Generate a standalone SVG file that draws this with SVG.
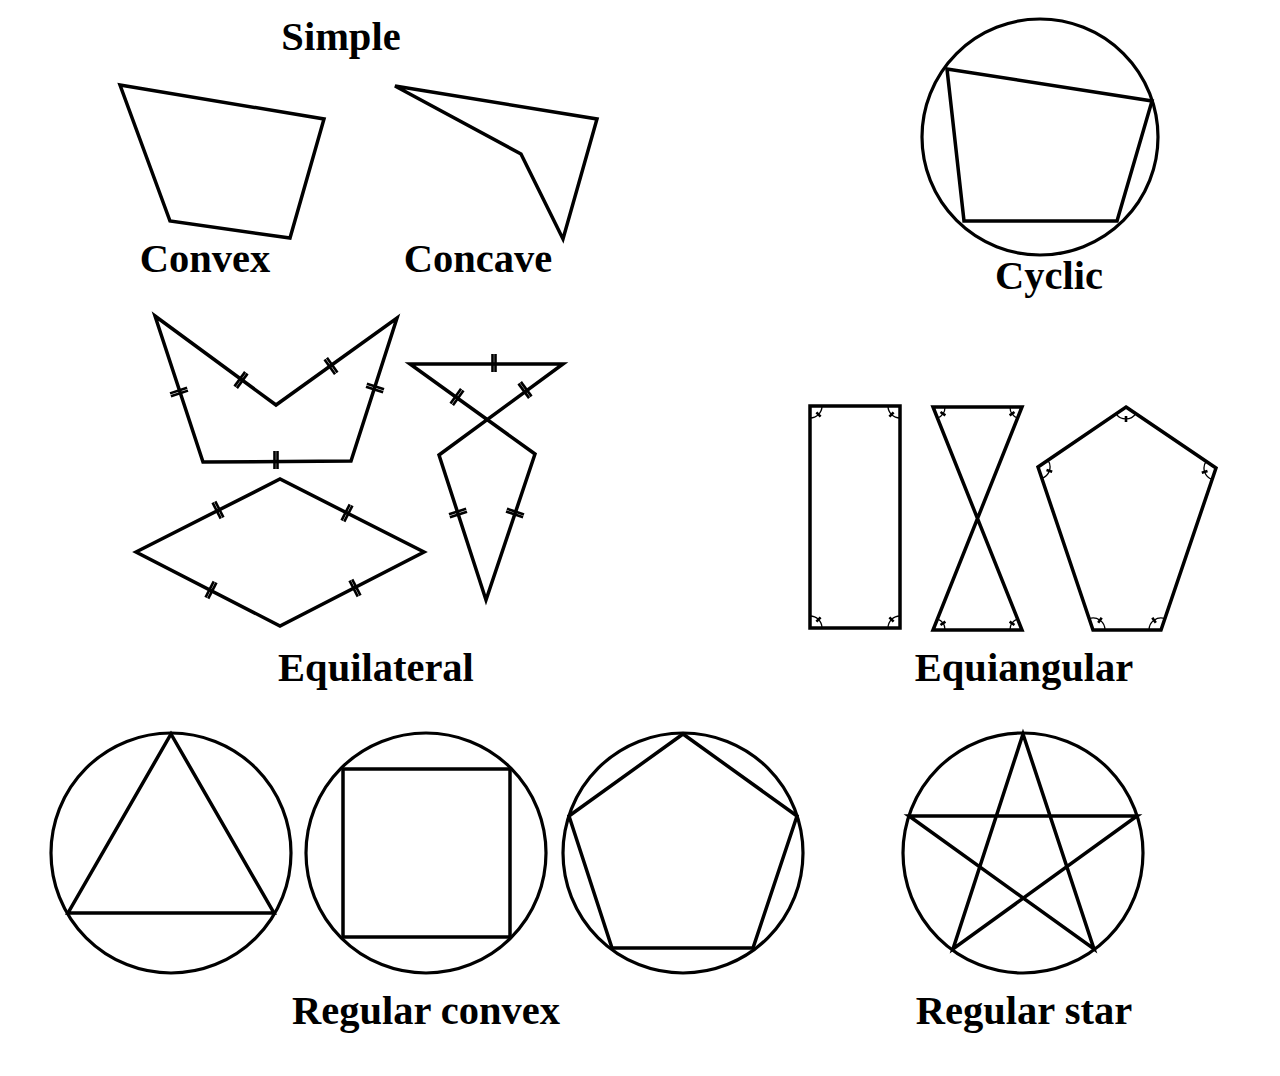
<svg xmlns="http://www.w3.org/2000/svg" xmlns:xlink="http://www.w3.org/1999/xlink" width="1280" height="1076" viewBox="0 0 1280 1076">
<style>
.s{fill:none;stroke:#000;stroke-width:3.5;stroke-linejoin:miter}
.c{fill:none;stroke:#000;stroke-width:3.2}
.a{fill:none;stroke:#000;stroke-width:1.3}
.k{fill:none;stroke:#000;stroke-width:2.6;stroke-linecap:butt}
.t{font-family:"Liberation Serif","Times New Roman",serif;font-weight:bold;font-size:40.5px;fill:#000;text-anchor:middle}
</style>
<defs>
<g id="tk" class="k"><line x1="-1.5" y1="-9" x2="-1.5" y2="9"/><line x1="1.5" y1="-9" x2="1.5" y2="9"/></g>
</defs>
<rect width="1280" height="1076" fill="#fff"/>

<g id="simple">
<text class="t" x="341" y="50">Simple</text>
<g id="convex"><polygon class="s" points="120,85 324,119 290,238 170,221"/><text class="t" x="205" y="272">Convex</text></g>
<g id="concave"><polygon class="s" points="395,86 597,119 563,239 521,154"/><text class="t" x="478" y="272">Concave</text></g>
</g>

<g id="cyclic">
<circle class="c" cx="1040" cy="137" r="118"/>
<polygon class="s" points="947,69 1152,101 1117,221 964,221"/>
<text class="t" x="1049" y="289">Cyclic</text>
</g>

<g id="equilateral">
<polygon class="s" points="155,316 276,405 397,318 351,461 203,462"/>
<use href="#tk" transform="translate(241,380) rotate(36.3)"/>
<use href="#tk" transform="translate(331,366) rotate(-35.7)"/>
<use href="#tk" transform="translate(375,388) rotate(107.8)"/>
<use href="#tk" transform="translate(179,392) rotate(71.8)"/>
<use href="#tk" transform="translate(276,460) rotate(0)"/>

<polygon class="s" points="410,364 563,364 439,455 486,600 535,454"/>
<use href="#tk" transform="translate(494,363) rotate(0)"/>
<use href="#tk" transform="translate(457,397) rotate(35.8)"/>
<use href="#tk" transform="translate(525,390) rotate(-36.3)"/>
<use href="#tk" transform="translate(458,513) rotate(72)"/>
<use href="#tk" transform="translate(515,513) rotate(-71.4)"/>

<polygon class="s" points="136,552 280,479 424,552 280,626"/>
<use href="#tk" transform="translate(218,510) rotate(-26.9)"/>
<use href="#tk" transform="translate(347,513) rotate(26.9)"/>
<use href="#tk" transform="translate(211,590) rotate(27.2)"/>
<use href="#tk" transform="translate(355,588) rotate(-27.2)"/>
<text class="t" x="376" y="681">Equilateral</text>
</g>

<g id="equiangular">
<rect class="s" x="810" y="406" width="90" height="222"/>
<path class="a" d="M822,406 A12,12 0 0 1 810,418 M888,406 A12,12 0 0 0 900,418 M888,628 A12,12 0 0 1 900,616 M822,628 A12,12 0 0 0 810,616"/>
<path class="k" d="M816.4,412.4 L820.6,416.6 M893.6,412.4 L889.4,416.6 M893.6,621.6 L889.4,617.4 M816.4,621.6 L820.6,617.4"/>

<path class="s" d="M933,407 L1022,407 L933,630 L1022,630 Z"/>
<path class="a" d="M945,407 A12,12 0 0 1 937.4,418.1 M1010,407 A12,12 0 0 0 1017.6,418.1 M945,630 A12,12 0 0 0 937.4,618.9 M1010,630 A12,12 0 0 1 1017.6,618.9"/>
<path class="k" d="M940.5,412 L945.4,415.4 M1014.5,412 L1009.6,415.4 M940.5,625 L945.4,621.6 M1014.5,625 L1009.6,621.6"/>

<polygon class="s" points="1126,407 1216,468 1161,630 1093,630 1038,467"/>
<path class="a" d="M1135.9,413.7 A12,12 0 0 1 1116.1,413.8 M1206.1,461.3 A12,12 0 0 0 1212.1,479.4 M1164.9,618.6 A12,12 0 0 0 1149,630 M1105,630 A12,12 0 0 0 1089.2,618.6 M1041.8,478.4 A12,12 0 0 0 1047.9,460.2"/>
<path class="k" d="M1126,416 L1126,422 M1207.5,470.9 L1201.8,472.8 M1155.8,622.7 L1152.3,617.8 M1098.2,622.7 L1101.7,617.8 M1046.5,469.9 L1052.2,471.8"/>
<text class="t" x="1024" y="681">Equiangular</text>
</g>

<g id="regular-convex">
<circle class="c" cx="171" cy="853" r="120"/>
<polygon class="s" points="171,734 274,913 68,913"/>
<circle class="c" cx="426" cy="853" r="120"/>
<rect class="s" x="343" y="769" width="167" height="168"/>
<circle class="c" cx="683" cy="853" r="120"/>
<polygon class="s" points="683,734 797,816 753,948 612,948 569,816"/>
<text class="t" x="426" y="1024">Regular convex</text>
</g>

<g id="regular-star">
<circle class="c" cx="1023" cy="853" r="120"/>
<polygon class="s" points="1023,734 953,949 1137,816 909,816 1094,949"/>
<text class="t" x="1024" y="1024">Regular star</text>
</g>
</svg>
